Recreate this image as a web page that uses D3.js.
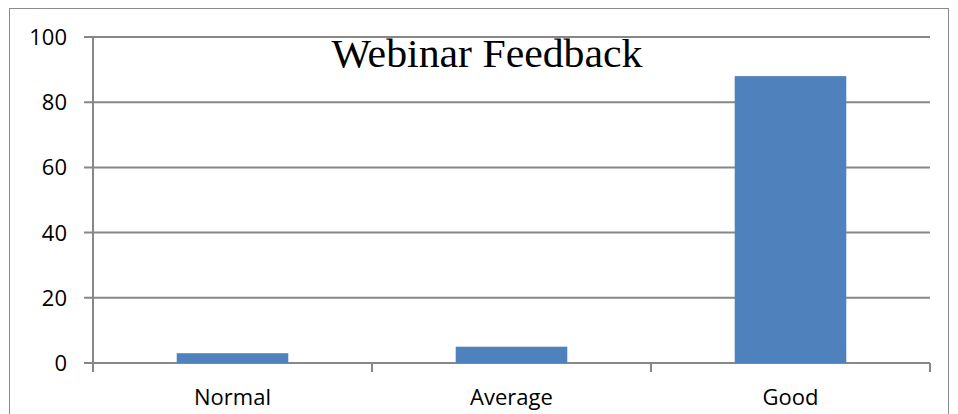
<!DOCTYPE html>
<html>
<head>
<meta charset="utf-8">
<script src="https://cdn.jsdelivr.net/npm/d3@7"></script>
<style>
  html, body { margin: 0; padding: 0; background: #fff; }
  svg { display: block; }
</style>
</head>
<body>
<svg id="chart"></svg>
<script>
const categories = ["Normal", "Average", "Good"];
const values = [3, 5, 88];
const yTicks = [0, 20, 40, 60, 80, 100];
const chartTitle = "Webinar Feedback";

function makeChart() {
    const svgWidth = 958,
        svgHeight = 414;
    const margin = { top: 37, right: 28, bottom: 51, left: 93 };
    const width = svgWidth - margin.left - margin.right;
    const height = svgHeight - margin.top - margin.bottom;
    const gridColor = "#878787";

    const canvas = d3.select("#chart")
        .attr("width", svgWidth)
        .attr("height", svgHeight);

    // outer chart border
    canvas.append("rect")
        .attr("x", 9.5)
        .attr("y", 8.5)
        .attr("width", 939)
        .attr("height", 420)
        .attr("fill", "none")
        .attr("stroke", "#8c8c8c")
        .attr("stroke-width", 1);

    const plotArea = canvas.append("g")
        .attr("transform", `translate(${margin.left},${margin.top})`);

    // Scales
    const x = d3.scaleBand()
        .domain(categories)
        .range([0, width])
        .paddingInner(0.6)
        .paddingOuter(0.3);

    const y = d3.scaleLinear()
        .domain([0, 100])
        .range([height, 0]);

    // Gridlines
    plotArea.append("g")
        .selectAll("line")
        .data(yTicks)
        .enter().append("line")
        .attr("x1", -9)
        .attr("x2", width)
        .attr("y1", d => y(d))
        .attr("y2", d => y(d))
        .attr("stroke", gridColor)
        .attr("stroke-width", 2);

    // Y axis line
    plotArea.append("line")
        .attr("x1", 0).attr("x2", 0)
        .attr("y1", 0).attr("y2", height + 9)
        .attr("stroke", gridColor)
        .attr("stroke-width", 2);

    // Bottom category separators
    const sepX = [0, width / 3, 2 * width / 3, width];
    plotArea.append("g")
        .selectAll("line")
        .data(sepX)
        .enter().append("line")
        .attr("x1", d => d).attr("x2", d => d)
        .attr("y1", height).attr("y2", height + 9)
        .attr("stroke", gridColor)
        .attr("stroke-width", 2);

    // Y tick labels
    plotArea.append("g")
        .selectAll("text")
        .data(yTicks)
        .enter().append("text")
        .attr("x", -26)
        .attr("y", d => y(d))
        .attr("dy", "0.36em")
        .attr("text-anchor", "end")
        .style("font-family", "'Open Sans', sans-serif")
        .style("font-size", "22px")
        .attr("fill", "#000")
        .text(d => d);

    // Bars
    plotArea.selectAll("rect.bar")
        .data(values)
        .enter().append("rect")
        .attr("class", "bar")
        .attr("x", (d, i) => x(categories[i]))
        .attr("width", x.bandwidth())
        .attr("y", d => y(d))
        .attr("height", d => height - y(d))
        .attr("fill", "#4f81bd");

    // Category labels
    plotArea.append("g")
        .selectAll("text")
        .data(categories)
        .enter().append("text")
        .attr("x", d => x(d) + x.bandwidth() / 2)
        .attr("y", height + 42)
        .attr("text-anchor", "middle")
        .style("font-family", "'Open Sans', sans-serif")
        .style("font-size", "22px")
        .attr("fill", "#000")
        .text(d => d);

    // Title
    canvas.append("text")
        .attr("x", 487)
        .attr("y", 67)
        .attr("text-anchor", "middle")
        .style("font-family", "'Liberation Serif', 'Times New Roman', serif")
        .style("font-size", "40px")
        .attr("textLength", 311)
        .attr("lengthAdjust", "spacingAndGlyphs")
        .attr("fill", "#000")
        .text(chartTitle);
}

makeChart();
</script>
</body>
</html>
